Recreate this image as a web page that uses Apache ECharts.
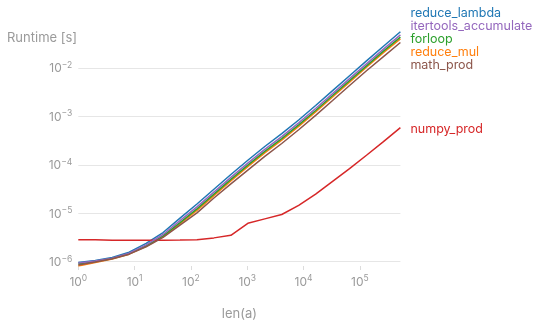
<!DOCTYPE html>
<html>
<head>
<meta charset="utf-8">
<script src="https://cdn.jsdelivr.net/npm/echarts@6/dist/echarts.min.js"></script>
<style>
html,body{margin:0;padding:0;background:#fff;}
#chart{width:540px;height:326px;}
</style>
</head>
<body>
<div id="chart"></div>
<script>
// n values: powers of two 2^0 .. 2^19
var nValues = [1, 2, 4, 8, 16, 32, 64, 128, 256, 512, 1024, 2048, 4096, 8192, 16384, 32768, 65536, 131072, 262144, 524288];

var reduceLambda = [9.6e-7, 1.06e-6, 1.22e-6, 1.57e-6, 2.39e-6, 4.0e-6, 7.9e-6, 1.55e-5, 3.13e-5, 6.3e-5, 1.24e-4, 2.38e-4, 4.38e-4, 8.4e-4, 1.67e-3, 3.38e-3, 6.88e-3, 1.39e-2, 2.79e-2, 5.57e-2];
var reduceMul = [8.15e-7, 9.66e-7, 1.138e-6, 1.43e-6, 2.08e-6, 3.24e-6, 6.11e-6, 1.145e-5, 2.31e-5, 4.65e-5, 9.16e-5, 1.76e-4, 3.23e-4, 6.2e-4, 1.233e-3, 2.5e-3, 5.08e-3, 1.027e-2, 2.06e-2, 3.96e-2];
var forloop = [8.95e-7, 1.01e-6, 1.164e-6, 1.464e-6, 2.13e-6, 3.4e-6, 6.4e-6, 1.228e-5, 2.48e-5, 4.99e-5, 9.82e-5, 1.885e-4, 3.47e-4, 6.65e-4, 1.32e-3, 2.68e-3, 5.45e-3, 1.1e-2, 2.21e-2, 4.29e-2];
var numpyProd = [2.85e-6, 2.82e-6, 2.78e-6, 2.76e-6, 2.76e-6, 2.78e-6, 2.8e-6, 2.85e-6, 3.1e-6, 3.5e-6, 6.2e-6, 7.65e-6, 9.4e-6, 1.45e-5, 2.48e-5, 4.54e-5, 8.3e-5, 1.57e-4, 3.0e-4, 5.85e-4];
var itertoolsAccumulate = [9.38e-7, 1.035e-6, 1.18e-6, 1.5e-6, 2.23e-6, 3.64e-6, 7.03e-6, 1.35e-5, 2.72e-5, 5.48e-5, 1.08e-4, 2.07e-4, 3.81e-4, 7.3e-4, 1.45e-3, 2.94e-3, 5.98e-3, 1.21e-2, 2.43e-2, 4.78e-2];
var mathProd = [8.54e-7, 9.88e-7, 1.153e-6, 1.43e-6, 2.03e-6, 3.17e-6, 5.7e-6, 1.02e-5, 2.06e-5, 4.04e-5, 7.78e-5, 1.49e-4, 2.75e-4, 5.27e-4, 1.047e-3, 2.12e-3, 4.32e-3, 8.72e-3, 1.71e-2, 3.33e-2];

var seriesNames = ['reduce_lambda', 'reduce_mul', 'forloop', 'numpy_prod', 'itertools_accumulate', 'math_prod'];
var seriesValues = [reduceLambda, reduceMul, forloop, numpyProd, itertoolsAccumulate, mathProd];
var seriesColors = ['#1f77b4', '#ff7f0e', '#2ca02c', '#d62728', '#9467bd', '#8c564b'];
// end labels of the tightly clustered series are lifted so the stack centres on the bundle
var labelLift = [-18.5, -18.5, -18.5, 1.5, -18.5, -18.5];

var xTicks = [1, 10, 100, 1000, 10000, 100000];
var yTicks = [1e-6, 1e-5, 1e-4, 1e-3, 1e-2];

var FONT = 'Inter';
var GRAY = '#9a9a9a';

function powLabel(v) {
  var e = Math.round(Math.log10(v));
  return '{b|10}{s|' + (e < 0 ? '\u2212' + (-e) : e) + '}';
}
var rich = {
  b: { fontSize: 12, fontFamily: FONT, color: GRAY, verticalAlign: 'bottom', lineHeight: 14 },
  s: { fontSize: 8.5, fontFamily: FONT, color: GRAY, verticalAlign: 'top', lineHeight: 14, padding: [0, 0, 6, 0] }
};

var series = seriesNames.map(function (name, i) {
  return {
    name: name,
    type: 'line',
    showSymbol: false,
    symbol: 'none',
    data: nValues.map(function (n, j) { return [n, seriesValues[i][j]]; }),
    lineStyle: { width: 1.5, color: seriesColors[i] },
    itemStyle: { color: seriesColors[i] },
    emphasis: { disabled: true },
    endLabel: {
      show: true,
      formatter: '{a}',
      color: seriesColors[i],
      fontFamily: FONT,
      fontSize: 12.5,
      lineHeight: 11,
      distance: 10,
      offset: [0, labelLift[i]]
    },
    labelLayout: { moveOverlap: 'shiftY' }
  };
});

var chart = echarts.init(document.getElementById('chart'), null, { renderer: 'canvas' });
chart.setOption({
  animation: false,
  backgroundColor: '#ffffff',
  title: {
    text: 'Runtime [s]',
    left: 2,
    top: 27,
    textStyle: { fontFamily: FONT, fontSize: 13, fontWeight: 'normal', color: GRAY }
  },
  grid: { left: 78.3, right: 139.6, top: 31.7, bottom: 56 },
  xAxis: {
    type: 'log',
    logBase: 10,
    min: 'dataMin',
    max: 'dataMax',
    name: 'len(a)',
    nameLocation: 'middle',
    nameGap: 42,
    nameTextStyle: { fontFamily: FONT, fontSize: 13, color: GRAY },
    axisLine: { show: false },
    axisTick: { show: true, length: 4, lineStyle: { color: '#dcdcdc' }, customValues: xTicks },
    axisLabel: { customValues: xTicks, formatter: powLabel, rich: rich, margin: 8 },
    splitLine: { show: false },
    minorTick: { show: false }
  },
  yAxis: {
    type: 'log',
    logBase: 10,
    min: 'dataMin',
    max: 'dataMax',
    axisLine: { show: false },
    axisTick: { show: false },
    axisLabel: { customValues: yTicks, formatter: powLabel, rich: rich, margin: 6 },
    splitLine: { show: true, showMinLine: false, showMaxLine: false, lineStyle: { color: '#e6e6e6', width: 1 } }
  },
  series: series
});
</script>
</body>
</html>
